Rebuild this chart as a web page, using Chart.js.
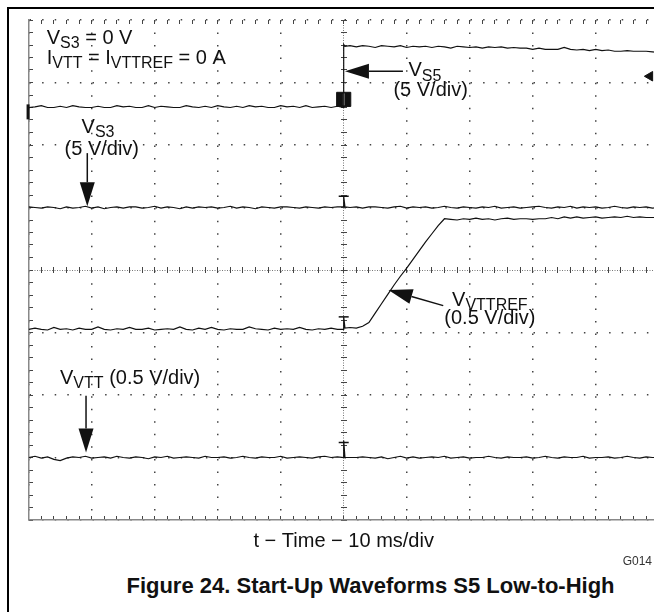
<!DOCTYPE html>
<html lang="en">
<head>
    <meta charset="UTF-8">
    <title>Start-Up Waveforms S5 Low-to-High</title>
    <script src="https://cdn.jsdelivr.net/npm/chart.js"></script>
    <style>
        html, body {
            margin: 0;
            padding: 0;
            background: #fff;
            width: 654px;
            height: 615px;
            overflow: hidden;
        }

        body {
            position: relative;
            font-family: "Liberation Sans", Arial, sans-serif;
            color: #111;
        }

        .frame {
            position: absolute;
            left: 7px;
            top: 7px;
            width: 720px;
            height: 603px;
            border-left: 2px solid #000;
            border-top: 2px solid #000;
        }

        #scope {
            position: absolute;
            left: 9px;
            top: 9px;
        }

        .caption {
            position: absolute;
            left: 0;
            width: 741px;
            top: 573px;
            text-align: center;
            font-weight: bold;
            font-size: 22px;
            line-height: 26px;
            white-space: nowrap;
        }

        .fig-id {
            position: absolute;
            left: 590px;
            width: 62px;
            top: 554px;
            text-align: right;
            font-size: 12px;
            line-height: 14px;
            color: #333;
        }
    </style>
</head>
<body>
    <div class="frame"></div>
    <canvas id="scope" width="680" height="550"></canvas>
    <div class="fig-id">G014</div>
    <div class="caption">Figure 24. Start-Up Waveforms S5 Low-to-High</div>
    <script>
        // time base: 10 ms/div, 10 divisions -> 0..100 ms
        const timeMs = [
            0, 1, 2, 3, 4, 5, 6, 7, 8, 9,
            10, 11, 12, 13, 14, 15, 16, 17, 18, 19,
            20, 21, 22, 23, 24, 25, 26, 27, 28, 29,
            30, 31, 32, 33, 34, 35, 36, 37, 38, 39,
            40, 41, 42, 43, 44, 45, 46, 47, 48, 49,
            50, 50, 50.2,
            51, 52, 53, 54, 55, 56, 57, 58, 59,
            60, 61, 62, 63, 64, 65, 66, 67, 68, 69,
            70, 71, 72, 73, 74, 75, 76, 77, 78, 79,
            80, 81, 82, 83, 84, 85, 86, 87, 88, 89,
            90, 91, 92, 93, 94, 95, 96, 97, 98, 99,
            100
        ];

        // trace levels in screen divisions (0 = bottom, 8 = top)
        const vs5Div = [
            6.60, 6.61, 6.63, 6.60, 6.60, 6.62, 6.60, 6.63, 6.61, 6.60,
            6.60, 6.62, 6.60, 6.60, 6.63, 6.61, 6.62, 6.60, 6.60, 6.63,
            6.60, 6.62, 6.61, 6.60, 6.60, 6.63, 6.61, 6.60, 6.62, 6.60,
            6.63, 6.61, 6.60, 6.62, 6.60, 6.63, 6.61, 6.62, 6.60, 6.60,
            6.63, 6.61, 6.62, 6.60, 6.63, 6.60, 6.61, 6.62, 6.60, 6.62,
            6.60, 7.61, 7.58,
            7.59, 7.57, 7.59, 7.58, 7.56, 7.59, 7.58, 7.57, 7.59,
            7.56, 7.58, 7.57, 7.58, 7.56, 7.58, 7.57, 7.55, 7.58, 7.57,
            7.56, 7.57, 7.55, 7.57, 7.56, 7.57, 7.55, 7.56, 7.55, 7.55,
            7.53, 7.55, 7.53, 7.53, 7.53, 7.56, 7.53, 7.52, 7.53, 7.51,
            7.53, 7.51, 7.52, 7.50, 7.50, 7.51, 7.50, 7.50, 7.50, 7.49,
            7.48
        ];

        const vs3Div = [
            5.01, 5.00, 4.99, 5.01, 5.00, 4.98, 5.01, 4.99, 5.00, 5.02,
            4.99, 5.01, 4.98, 5.00, 5.01, 4.99, 5.01, 5.01, 4.99, 5.00,
            5.02, 4.99, 5.01, 5.00, 4.98, 5.01, 4.99, 5.01, 5.00, 5.01,
            4.99, 5.00, 5.02, 4.99, 5.01, 5.00, 4.98, 5.01, 5.00, 4.99,
            5.01, 5.01, 5.00, 4.99, 5.01, 5.00, 4.99, 5.01, 5.00, 5.01,
            5.01, 5.18, 5.01,
            5.00, 5.01, 4.99, 5.01, 5.01, 5.00, 4.99, 5.01, 5.02,
            4.99, 5.01, 5.00, 5.01, 4.99, 5.00, 5.02, 5.00, 4.99, 5.01,
            5.00, 4.99, 5.01, 5.00, 5.02, 4.99, 5.00, 5.01, 4.99, 5.00,
            5.01, 5.02, 5.00, 4.99, 5.01, 5.00, 5.02, 4.99, 5.01, 5.00,
            5.01, 4.99, 5.00, 5.02, 5.00, 4.99, 5.01, 5.00, 5.01, 4.99,
            5.00
        ];

        const vttrefDiv = [
            3.05, 3.07, 3.05, 3.04, 3.08, 3.05, 3.06, 3.04, 3.07, 3.05,
            3.05, 3.09, 3.05, 3.04, 3.06, 3.05, 3.08, 3.05, 3.05, 3.07,
            3.04, 3.05, 3.06, 3.05, 3.09, 3.05, 3.04, 3.07, 3.05, 3.08,
            3.05, 3.04, 3.06, 3.05, 3.05, 3.09, 3.06, 3.05, 3.04, 3.07,
            3.05, 3.06, 3.05, 3.08, 3.05, 3.04, 3.06, 3.05, 3.07, 3.05,
            3.05, 3.25, 3.07,
            3.08, 3.07, 3.10, 3.16, 3.31, 3.46, 3.61, 3.76, 3.90,
            4.03, 4.17, 4.31, 4.45, 4.58, 4.71, 4.82, 4.81, 4.80, 4.82,
            4.81, 4.83, 4.81, 4.82, 4.80, 4.82, 4.83, 4.81, 4.82, 4.82,
            4.81, 4.82, 4.82, 4.84, 4.82, 4.85, 4.83, 4.85, 4.83, 4.84,
            4.85, 4.83, 4.84, 4.85, 4.84, 4.86, 4.84, 4.85, 4.84, 4.84,
            4.84
        ];

        const vttDiv = [
            1.00, 1.02, 0.99, 1.01, 0.97, 0.95, 0.99, 1.01, 1.00, 1.02,
            0.99, 1.00, 1.01, 0.99, 1.02, 1.00, 0.99, 1.01, 1.00, 0.98,
            1.01, 1.00, 1.02, 0.99, 1.00, 1.01, 1.00, 0.99, 1.02, 1.00,
            1.00, 1.01, 0.99, 1.00, 1.02, 1.00, 0.99, 1.01, 1.00, 1.00,
            1.02, 0.99, 1.00, 1.01, 1.00, 0.99, 1.01, 1.02, 1.00, 1.01,
            1.00, 1.27, 1.00,
            1.00, 1.00, 1.01, 1.00, 0.99, 1.01, 0.98, 1.00, 1.02,
            0.99, 1.01, 0.99, 1.00, 1.01, 1.00, 1.02, 0.99, 1.00, 1.01,
            0.99, 1.00, 1.00, 1.02, 1.00, 0.99, 1.01, 1.00, 1.00, 1.01,
            0.99, 1.00, 1.02, 1.00, 0.99, 1.01, 1.00, 1.00, 1.02, 0.99,
            1.00, 1.00, 1.01, 0.99, 1.00, 1.02, 1.00, 0.99, 1.01, 1.00,
            1.00
        ];

        // scope markers
        const trigMarkX = [50, 50, 50];
        const trigMarkY = [5.18, 3.25, 1.24];
        const vs5MarkX = [50];
        const vs5MarkY = [6.73];
        const trigLevelX = [98.6];
        const trigLevelY = [7.10];
        const gndMarkX = [-0.1];
        const gndMarkY = [6.53];

        // annotations: {...} is a subscript
        const annoText = ['V{S3} = 0 V', 'I{VTT} = I{VTTREF} = 0 A', 'V{S5}', '(5 V/div)',
            'V{S3}', '(5 V/div)', 'V{VTTREF}', '(0.5 V/div)', 'V{VTT} (0.5 V/div)'];
        const annoX = [2.86, 2.86, 62.9, 63.8, 11.0, 11.6, 73.2, 73.2, 4.97];
        const annoY = [7.62, 7.30, 7.10, 6.79, 6.20, 5.84, 3.43, 3.14, 2.18];
        const annoAlign = ['left', 'left', 'center', 'center', 'center', 'center', 'center', 'center', 'left'];

        // arrows: tail -> tip
        const arrowTailX = [9.3, 59.4, 65.8, 9.1];
        const arrowTailY = [5.87, 7.18, 3.43, 1.99];
        const arrowTipX = [9.3, 50.2, 57.1, 9.1];
        const arrowTipY = [5.02, 7.18, 3.68, 1.08];

        const INK = '#111';
        const FONT = '"Liberation Sans", Arial, sans-serif';
        Chart.defaults.font.family = FONT;

        function toPoints(values) {
            return timeMs.map((t, i) => ({ x: t, y: values[i] }));
        }

        function toXY(xs, ys) {
            return xs.map((x, i) => ({ x: x, y: ys[i] }));
        }

        function traceDataset(label, values) {
            return {
                label: label,
                data: toPoints(values),
                borderColor: INK,
                borderWidth: 1.2,
                pointRadius: 0,
                tension: 0,
                fill: false,
                xAxisID: 'x',
                yAxisID: 'y'
            };
        }

        function markerDataset(data, style) {
            return Object.assign({
                data: data,
                showLine: false,
                clip: false,
                borderColor: INK,
                backgroundColor: INK,
                xAxisID: 'x',
                yAxisID: 'y'
            }, style);
        }

        function drawRich(ctx, text, px, py, align) {
            const segs = text.split(/(\{[^}]*\})/).filter(s => s.length).map(s =>
                s[0] === '{' ? { t: s.slice(1, -1), sub: true } : { t: s, sub: false });
            const mainFont = '20px ' + FONT;
            const subFont = '16px ' + FONT;
            let total = 0;
            segs.forEach(s => {
                ctx.font = s.sub ? subFont : mainFont;
                s.w = ctx.measureText(s.t).width;
                total += s.w;
            });
            let cx = align === 'center' ? px - total / 2 : px;
            segs.forEach(s => {
                ctx.font = s.sub ? subFont : mainFont;
                ctx.fillText(s.t, cx, py + (s.sub ? 4.5 : 0));
                cx += s.w;
            });
        }

        const scopeAnnotations = {
            id: 'scopeAnnotations',
            afterDatasetsDraw(chart) {
                const { ctx } = chart;
                const xs = chart.scales.x;
                const ys = chart.scales.y;
                ctx.save();
                ctx.fillStyle = INK;
                ctx.strokeStyle = INK;
                ctx.textBaseline = 'alphabetic';
                ctx.textAlign = 'left';

                annoText.forEach((txt, i) => {
                    drawRich(ctx, txt, xs.getPixelForValue(annoX[i]), ys.getPixelForValue(annoY[i]), annoAlign[i]);
                });

                ctx.lineWidth = 1.5;
                arrowTailX.forEach((tx, i) => {
                    const x0 = xs.getPixelForValue(tx);
                    const y0 = ys.getPixelForValue(arrowTailY[i]);
                    const x1 = xs.getPixelForValue(arrowTipX[i]);
                    const y1 = ys.getPixelForValue(arrowTipY[i]);
                    const ang = Math.atan2(y1 - y0, x1 - x0);
                    const len = 24, half = 7.5;
                    const bx = x1 - Math.cos(ang) * len;
                    const by = y1 - Math.sin(ang) * len;
                    ctx.beginPath();
                    ctx.moveTo(x0, y0);
                    ctx.lineTo(bx, by);
                    ctx.stroke();
                    ctx.beginPath();
                    ctx.moveTo(x1, y1);
                    ctx.lineTo(bx + Math.sin(ang) * half, by - Math.cos(ang) * half);
                    ctx.lineTo(bx - Math.sin(ang) * half, by + Math.cos(ang) * half);
                    ctx.closePath();
                    ctx.fill();
                });
                ctx.restore();
            }
        };

        // tick-only scales for the graticule (minor divisions)
        function tickScale(axis, position, step, len) {
            return {
                type: 'linear',
                axis: axis,
                position: position,
                min: 0,
                max: axis === 'x' ? 100 : 8,
                ticks: { display: false, stepSize: step, includeBounds: false },
                grid: { drawOnChartArea: false, drawTicks: true, tickLength: len, tickColor: '#444', tickWidth: 1 },
                border: { display: false }
            };
        }

        const ctx = document.getElementById('scope').getContext('2d');
        new Chart(ctx, {
            type: 'line',
            data: {
                // earlier datasets are painted on top
                datasets: [
                    traceDataset('VS5', vs5Div),
                    traceDataset('VS3', vs3Div),
                    traceDataset('VVTTREF', vttrefDiv),
                    traceDataset('VVTT', vttDiv),
                    markerDataset(toXY(trigMarkX, trigMarkY), { pointStyle: 'line', pointRadius: 5, borderWidth: 1.5 }),
                    markerDataset(toXY(vs5MarkX, vs5MarkY), { pointStyle: 'line', pointRotation: 90, pointRadius: 6, borderWidth: 1.5, borderColor: '#fff' }),
                    markerDataset(toXY(vs5MarkX, vs5MarkY), { pointStyle: 'rect', pointRadius: 10, borderWidth: 1 }),
                    markerDataset(toXY(trigLevelX, trigLevelY), { pointStyle: 'triangle', pointRotation: -90, pointRadius: 5.5, borderWidth: 1 }),
                    markerDataset(toXY(gndMarkX, gndMarkY), { pointStyle: 'line', pointRotation: 90, pointRadius: 7.5, borderWidth: 3 })
                ]
            },
            options: {
                responsive: false,
                animation: false,
                events: [],
                layout: {
                    padding: { left: 19.7, top: 9.3, right: 30.3, bottom: 6 }
                },
                plugins: {
                    legend: { display: false },
                    tooltip: { enabled: false }
                },
                scales: {
                    x: {
                        type: 'linear',
                        position: 'bottom',
                        min: 0,
                        max: 100,
                        ticks: { display: false, stepSize: 10 },
                        grid: { drawTicks: false, color: ctx => ctx.tick && ctx.tick.value === 50 ? '#777' : '#444', lineWidth: ctx => ctx.tick && ctx.tick.value === 50 ? 1 : 1.5 },
                        border: {
                            display: true,
                            color: '#888',
                            width: 1.5,
                            dash: ctx => ctx.tick && ctx.tick.value === 50 ? [1, 1.5] : [1.5, 11.04]
                        },
                        title: {
                            display: true,
                            text: 't \u2212 Time \u2212 10 ms/div',
                            color: INK,
                            font: { size: 20 },
                            padding: { top: 9, bottom: 0 }
                        }
                    },
                    y: {
                        type: 'linear',
                        position: 'left',
                        min: 0,
                        max: 8,
                        ticks: { display: false, stepSize: 1 },
                        grid: { drawTicks: false, color: ctx => ctx.tick && ctx.tick.value === 4 ? '#777' : '#444', lineWidth: ctx => ctx.tick && ctx.tick.value === 4 ? 1 : 1.5 },
                        border: {
                            display: true,
                            color: '#888',
                            width: 1.5,
                            dash: ctx => ctx.tick && ctx.tick.value === 4 ? [1, 1.5] : [1.5, 11.1]
                        }
                    },
                    xTop: tickScale('x', { y: 8 }, 2, 4),
                    xBot: tickScale('x', { y: 0.064 }, 2, 4),
                    xCen: tickScale('x', { y: 4.048 }, 2, 6),
                    yLeft: tickScale('y', { x: 0.635 }, 0.2, 4),
                    yCen: tickScale('y', { x: 50.48 }, 0.2, 6)
                }
            },
            plugins: [scopeAnnotations]
        });
    </script>
</body>
</html>
